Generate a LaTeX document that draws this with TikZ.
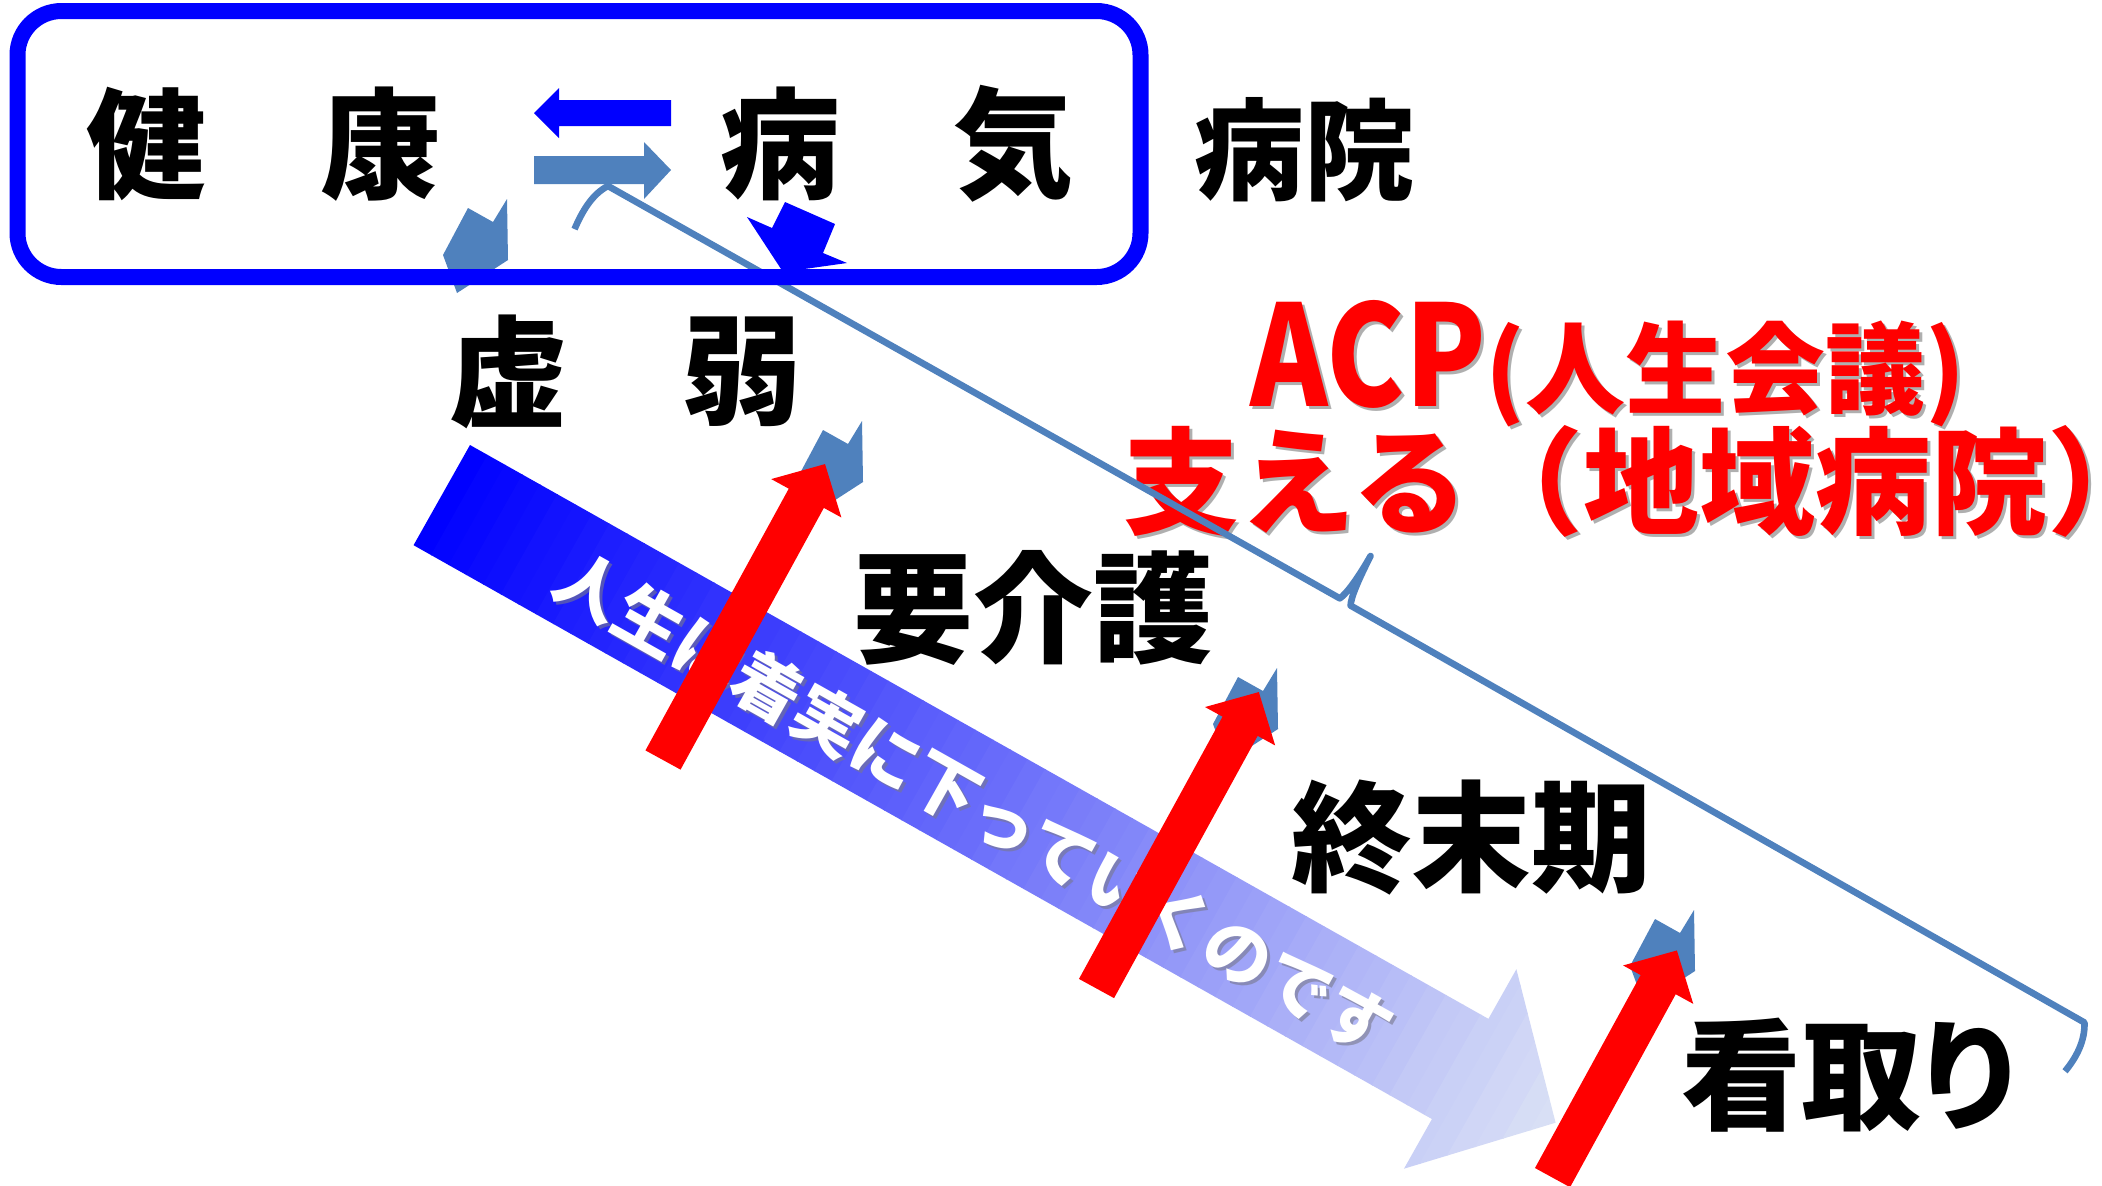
\documentclass[tikz,border=0pt]{standalone}
\usepackage{fontspec}
\newfontfamily\cjk{Noto Sans CJK JP}
\newfontfamily\cjkp{Noto Sans CJK JP}[RawFeature=+palt]
\usetikzlibrary{arrows.meta}
\definecolor{pureblue}{RGB}{0,0,255}
\definecolor{steel}{RGB}{79,129,189}
\definecolor{purered}{RGB}{255,0,0}
\definecolor{arrowlight}{RGB}{221,228,245}
\definecolor{shadowgray}{RGB}{175,175,175}
\definecolor{textshadow}{RGB}{120,120,140}
\tikzset{
  bigchar/.style={inner sep=0pt, text=black, font=\cjk\bfseries\fontsize{60}{60}\selectfont},
  bigcharp/.style={inner sep=0pt, text=black, font=\cjkp\bfseries\fontsize{60}{60}\selectfont},
  midchar/.style={inner sep=0pt, text=black, font=\cjk\bfseries\fontsize{55}{55}\selectfont},
  redline/.style={inner sep=0pt, font=\cjk\bfseries\fontsize{58}{58}\selectfont},
  acpline/.style={inner sep=0pt, font=\cjk\bfseries\fontsize{50}{50}\selectfont},
  slanttext/.style={inner sep=0pt, rotate=-29.4, font=\cjk\bfseries\fontsize{34}{34}\selectfont},
  bracestroke/.style={draw=steel, line width=3.3pt, line join=round},
  redshape/.style={fill=purered},
  steelshape/.style={fill=steel},
}
\newcommand\drawredarrow[3]{%
  \begin{scope}[shift={(#1,#2)},rotate=61.3]
    \fill[redshape] (0,-20) -- ({#3-39},-20) -- ({#3-39},-40) -- (#3,0) -- ({#3-39},40) -- ({#3-39},20) -- (0,20) -- cycle;
  \end{scope}}
\newcommand\drawsteelchev[2]{%
  \fill[steelshape,shift={(#1,#2)}] (11,-85) -- (36,-71) -- (50,-94) -- (51,-33) -- (0,0) -- (-14,-38) -- cycle;}
\newcommand\acptext{{\fontsize{70}{70}\selectfont\scalebox{0.84}[1]{ACP}}(人生会議)}
\begin{document}
\begin{tikzpicture}[x=0.5pt,y=-0.5pt]
\useasboundingbox[fill=white] (0,0) rectangle (2102,1185);

% red texts with shadow
\node[acpline, text=shadowgray, anchor=base west] at (1253,409) {\acptext};
\node[acpline, text=purered, anchor=base west] (acp) at (1250,406) {\acptext};
\node[redline, text=shadowgray, anchor=base west] at (1126,528) {支える（地域病院）};
\node[redline, text=purered, anchor=base west] (sasaeru) at (1123,525) {支える（地域病院）};

% brace
\begin{scope}[shift={(608,186)},rotate=-29.4]
  \draw[bracestroke] (-8,54) .. controls (-10,35) and (-10,15) .. (0,0) -- (840,0)
     .. controls (844,-8) and (846,-30) .. (846,-52)
     .. controls (847,-28) and (849,-6) .. (853,1) -- (1697,4)
     .. controls (1707,20) and (1707,40) .. (1704,56);
\end{scope}

% small steel arrows
\drawsteelchev{457}{293}
\drawsteelchev{812}{515}
\drawsteelchev{1227}{762}
\drawsteelchev{1644}{1004}
% blue arrow below byou
\fill[pureblue] (747,217) -- (772,228) -- (785,202) -- (835,224) -- (823,253) -- (847,263) -- (783,272) -- cycle;

% gradient arrow
\begin{scope}[shift={(470,445)},rotate=-29.4]
  \begin{scope}
    \clip (0,0) -- (1169,0) -- (1169,-57) -- (1278.5,57.5) -- (1169,172) -- (1169,115) -- (0,115) -- cycle;
    \foreach \i in {0,...,64}{
      \pgfmathtruncatemacro\p{round(\i*100/64)}
      \fill[arrowlight!\p!pureblue] ({\i*20},-60) rectangle ({\i*20+21},180);
    }
  \end{scope}
\end{scope}
\node[slanttext, text=textshadow, opacity=0.6] at (977,806) {人生は着実に下っていくのです};
\node[slanttext, text=white] (life) at (974,803) {人生は着実に下っていくのです};

% red arrows
\drawredarrow{663}{760}{337.4}
\drawredarrow{1096.5}{988.5}{338}
\drawredarrow{1552.5}{1177.6}{259}

% frame
\draw[pureblue, line width=8pt, rounded corners=22pt] (17.5,11) rectangle (1140.5,277);

% arrows inside frame
\fill[pureblue] (534,113) -- (559,88) -- (559,100) -- (671,100) -- (671,126) -- (559,126) -- (559,138) -- cycle;
\fill[steel] (671,170) -- (644,142) -- (644,156) -- (534,156) -- (534,184) -- (644,184) -- (644,199) -- cycle;

% black texts
\node[bigchar] (ken) at (146,144) {健};
\node[bigchar] (kou) at (380,144) {康};
\node[bigchar] (byou) at (780,144) {病};
\node[bigchar] (ki) at (1013,144) {気};
\node[midchar] (byouin) at (1304,150) {病院};
\node[bigchar] (kyo) at (508,372) {虚};
\node[bigchar] (jaku) at (742,372) {弱};
\node[bigchar] (kaigo) at (1033,608) {要介護};
\node[bigchar] (shuumatsu) at (1471,838) {終末期};
\node[bigcharp] (mitori) at (1849,1075) {看取り};
\end{tikzpicture}
\end{document}
